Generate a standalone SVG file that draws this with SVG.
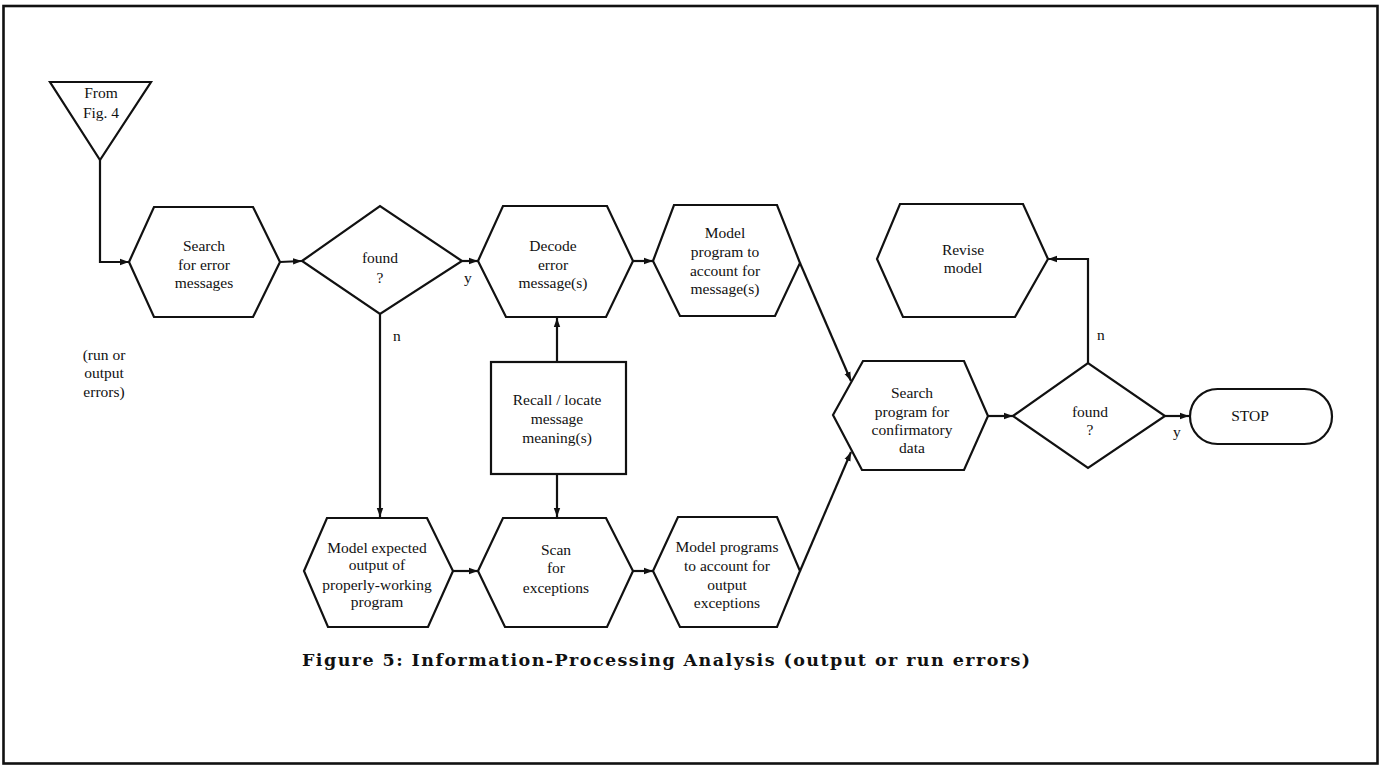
<svg xmlns="http://www.w3.org/2000/svg" width="1382" height="767" viewBox="0 0 1382 767">
  <style>
    .shape { fill: #ffffff; stroke: #111111; stroke-width: 2.2; stroke-linejoin: miter; }
    .wire { fill: none; stroke: #111111; stroke-width: 2.2; }
    .lbl { font-family: "Liberation Serif", "Times New Roman", serif; font-size: 15.5px; fill: #111111; text-anchor: middle; }
    .tag { font-family: "Liberation Serif", "Times New Roman", serif; font-size: 15.5px; fill: #111111; }
    .cap { font-family: "DejaVu Serif", "Liberation Serif", serif; font-size: 17.5px; font-weight: bold; fill: #111111; }
  </style>
  <defs>
    <marker id="arrow" markerUnits="userSpaceOnUse" markerWidth="10" markerHeight="8" refX="9" refY="4" orient="auto">
      <path d="M0,0.8 L9,4 L0,7.2 Z" fill="#111111"/>
    </marker>
  </defs>

  <rect x="0" y="0" width="1382" height="767" fill="#ffffff"/>
  <!-- outer frame -->
  <rect x="3.5" y="6" width="1374" height="757.5" fill="none" stroke="#111111" stroke-width="2.6"/>

  <!-- connectors -->
  <g id="connectors">
    <polyline class="wire" points="100,160 100,262 129,262" marker-end="url(#arrow)"/>
    <line class="wire" x1="280" y1="262" x2="302" y2="261" marker-end="url(#arrow)"/>
    <line class="wire" x1="462" y1="261" x2="478" y2="261" marker-end="url(#arrow)"/>
    <line class="wire" x1="633" y1="261" x2="653" y2="261" marker-end="url(#arrow)"/>
    <line class="wire" x1="380" y1="314" x2="380" y2="517" marker-end="url(#arrow)"/>
    <line class="wire" x1="557" y1="362" x2="557" y2="318" marker-end="url(#arrow)"/>
    <line class="wire" x1="557" y1="474" x2="557" y2="517" marker-end="url(#arrow)"/>
    <line class="wire" x1="453" y1="571" x2="478" y2="571" marker-end="url(#arrow)"/>
    <line class="wire" x1="633" y1="571" x2="653" y2="571" marker-end="url(#arrow)"/>
    <line class="wire" x1="800" y1="263" x2="851" y2="381" marker-end="url(#arrow)"/>
    <line class="wire" x1="800" y1="571" x2="851" y2="452" marker-end="url(#arrow)"/>
    <line class="wire" x1="988" y1="416" x2="1013" y2="416" marker-end="url(#arrow)"/>
    <line class="wire" x1="1165" y1="416" x2="1189" y2="416" marker-end="url(#arrow)"/>
    <polyline class="wire" points="1088,363 1088,259 1048,259" marker-end="url(#arrow)"/>
  </g>

  <!-- entry connector -->
  <g id="from-fig4">
    <polygon class="shape" points="50,82 151,82 100,160"/>
    <text class="lbl" x="101" y="98">From</text>
    <text class="lbl" x="101" y="118">Fig. 4</text>
  </g>

  <g id="search-errors">
    <polygon class="shape" points="129,262 154,207 253,207 280,262 253,317 154,317"/>
    <text class="lbl" x="204" y="251">Search</text>
    <text class="lbl" x="204" y="270">for error</text>
    <text class="lbl" x="204" y="288">messages</text>
  </g>

  <g id="run-output-note">
    <text class="lbl" x="104" y="360">(run or</text>
    <text class="lbl" x="104" y="378">output</text>
    <text class="lbl" x="104" y="397">errors)</text>
  </g>

  <g id="found-1">
    <polygon class="shape" points="302,261 380,206 462,261 380,314"/>
    <text class="lbl" x="380" y="263">found</text>
    <text class="lbl" x="380" y="283">?</text>
    <text class="tag" x="464" y="283">y</text>
    <text class="tag" x="393" y="341">n</text>
  </g>

  <g id="decode">
    <polygon class="shape" points="478,261 503,206 607,206 633,261 606,317 506,317"/>
    <text class="lbl" x="553" y="251">Decode</text>
    <text class="lbl" x="553" y="270">error</text>
    <text class="lbl" x="553" y="288">message(s)</text>
  </g>

  <g id="model-message">
    <polygon class="shape" points="653,261 674,205 777,205 800,263 775,316 680,316"/>
    <text class="lbl" x="725" y="238">Model</text>
    <text class="lbl" x="725" y="257">program to</text>
    <text class="lbl" x="725" y="276">account for</text>
    <text class="lbl" x="725" y="294">message(s)</text>
  </g>

  <g id="recall">
    <rect class="shape" x="491" y="362" width="135" height="112"/>
    <text class="lbl" x="557" y="405">Recall / locate</text>
    <text class="lbl" x="557" y="424">message</text>
    <text class="lbl" x="557" y="443">meaning(s)</text>
  </g>

  <g id="model-expected">
    <polygon class="shape" points="304,571 327,518 427,518 453,571 428,627 328,627"/>
    <text class="lbl" x="377" y="553">Model expected</text>
    <text class="lbl" x="377" y="570">output of</text>
    <text class="lbl" x="377" y="590">properly-working</text>
    <text class="lbl" x="377" y="607">program</text>
  </g>

  <g id="scan">
    <polygon class="shape" points="478,571 503,518 606,518 633,571 607,627 505,627"/>
    <text class="lbl" x="556" y="555">Scan</text>
    <text class="lbl" x="556" y="573">for</text>
    <text class="lbl" x="556" y="593">exceptions</text>
  </g>

  <g id="model-output">
    <polygon class="shape" points="653,571 678,517 777,517 800,571 777,627 680,627"/>
    <text class="lbl" x="727" y="552">Model programs</text>
    <text class="lbl" x="727" y="571">to account for</text>
    <text class="lbl" x="727" y="590">output</text>
    <text class="lbl" x="727" y="608">exceptions</text>
  </g>

  <g id="search-program">
    <polygon class="shape" points="833,415 863,361 964,361 988,416 964,470 862,470"/>
    <text class="lbl" x="912" y="398">Search</text>
    <text class="lbl" x="912" y="417">program for</text>
    <text class="lbl" x="912" y="435">confirmatory</text>
    <text class="lbl" x="912" y="453">data</text>
  </g>

  <g id="found-2">
    <polygon class="shape" points="1013,416 1088,363 1165,416 1088,468"/>
    <text class="lbl" x="1090" y="417">found</text>
    <text class="lbl" x="1090" y="435">?</text>
    <text class="tag" x="1173" y="437">y</text>
    <text class="tag" x="1097" y="340">n</text>
  </g>

  <g id="revise">
    <polygon class="shape" points="877,259 900,204 1023,204 1048,259 1015,317 903,317"/>
    <text class="lbl" x="963" y="255">Revise</text>
    <text class="lbl" x="963" y="273">model</text>
  </g>

  <g id="stop">
    <rect class="shape" x="1190" y="389" width="142" height="55" rx="27.5" ry="27.5"/>
    <text class="lbl" x="1250" y="421">STOP</text>
  </g>

  <text class="cap" x="302" y="666" textLength="728" lengthAdjust="spacing">Figure 5: Information-Processing Analysis (output or run errors)</text>
</svg>
